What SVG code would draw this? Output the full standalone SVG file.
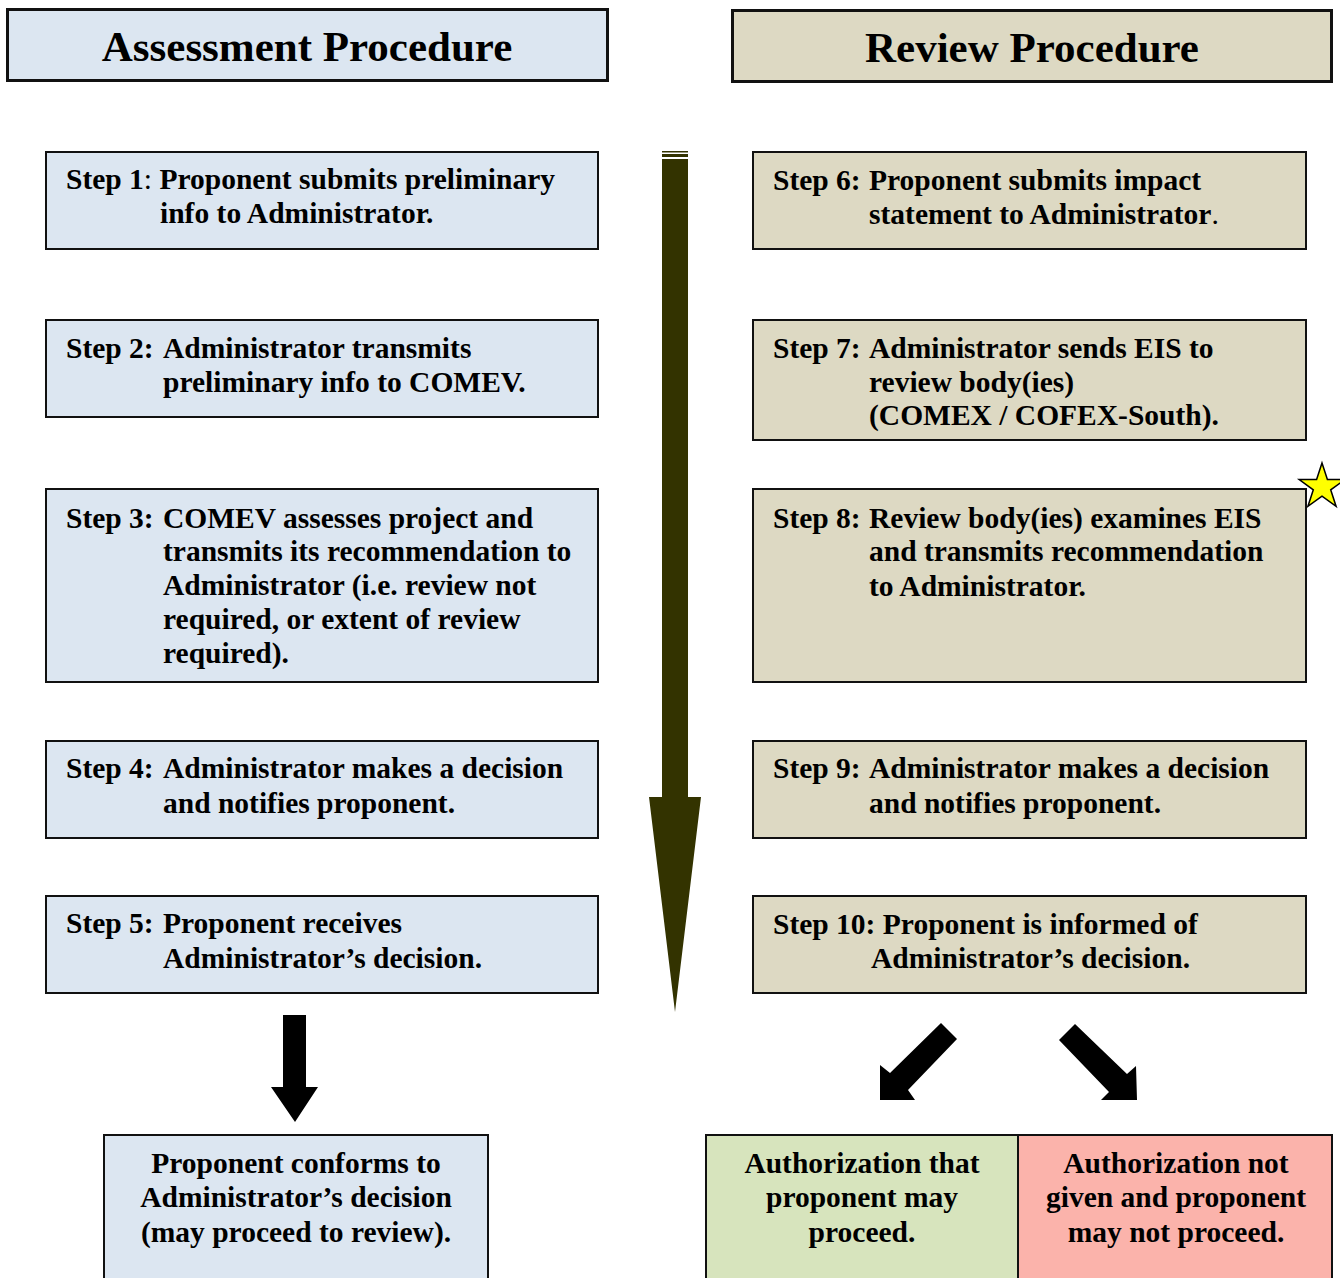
<svg xmlns="http://www.w3.org/2000/svg" width="1340" height="1278" viewBox="0 0 1340 1278">
<style>
text{font-family:"Liberation Serif","Times New Roman",serif;font-weight:bold;fill:#000}
.st{font-size:29.5px}
.ttl{font-size:43px;text-anchor:middle}
.ctr{font-size:29.5px;text-anchor:middle}
.blue{fill:#dce6f1;stroke:#111;stroke-width:2}
.tan{fill:#ddd9c3;stroke:#111;stroke-width:2}
.hdr{stroke-width:3}
.nrm{font-weight:normal}
.olive{fill:#333300}
.blk{fill:#000}
</style>
<rect width="1340" height="1278" fill="#fff"/>
<g id="hdr-assessment"><rect class="blue hdr" x="7.5" y="9.5" width="600" height="71"/><text class="ttl" x="307" y="61">Assessment Procedure</text></g>
<g id="hdr-review"><rect class="tan hdr" x="732.5" y="10.5" width="599" height="71"/><text class="ttl" x="1032" y="62">Review Procedure</text></g>

<g id="step1"><rect class="blue" x="46" y="152" width="552" height="97"/><text class="st" x="66" y="189">Step 1<tspan class="nrm">:</tspan> Proponent submits preliminary</text><text class="st" x="160" y="223">info to Administrator.</text></g>
<g id="step2"><rect class="blue" x="46" y="320" width="552" height="97"/><text class="st" x="66" y="358">Step 2:</text><text class="st" x="163" y="358">Administrator transmits</text><text class="st" x="163" y="392">preliminary info to COMEV.</text></g>
<g id="step3"><rect class="blue" x="46" y="489" width="552" height="193"/><text class="st" x="66" y="528">Step 3:</text><text class="st" x="163" y="528">COMEV assesses project and</text><text class="st" x="163" y="561">transmits its recommendation to</text><text class="st" x="163" y="595">Administrator (i.e. review not</text><text class="st" x="163" y="629">required, or extent of review</text><text class="st" x="163" y="663">required).</text></g>
<g id="step4"><rect class="blue" x="46" y="741" width="552" height="97"/><text class="st" x="66" y="778">Step 4:</text><text class="st" x="163" y="778">Administrator makes a decision</text><text class="st" x="163" y="813">and notifies proponent.</text></g>
<g id="step5"><rect class="blue" x="46" y="896" width="552" height="97"/><text class="st" x="66" y="933">Step 5:</text><text class="st" x="163" y="933">Proponent receives</text><text class="st" x="163" y="968">Administrator’s decision.</text></g>

<g id="step6"><rect class="tan" x="753" y="152" width="553" height="97"/><text class="st" x="773" y="190">Step 6:</text><text class="st" x="869" y="190">Proponent submits impact</text><text class="st" x="869" y="224">statement to Administrator<tspan class="nrm">.</tspan></text></g>
<g id="step7"><rect class="tan" x="753" y="320" width="553" height="120"/><text class="st" x="773" y="358">Step 7:</text><text class="st" x="869" y="358">Administrator sends EIS to</text><text class="st" x="869" y="392">review body(ies)</text><text class="st" x="869" y="425">(COMEX / COFEX-South).</text></g>
<g id="step8"><rect class="tan" x="753" y="489" width="553" height="193"/><text class="st" x="773" y="528">Step 8:</text><text class="st" x="869" y="528">Review body(ies) examines EIS</text><text class="st" x="869" y="561">and transmits recommendation</text><text class="st" x="869" y="596">to Administrator.</text></g>
<g id="step9"><rect class="tan" x="753" y="741" width="553" height="97"/><text class="st" x="773" y="778">Step 9:</text><text class="st" x="869" y="778">Administrator makes a decision</text><text class="st" x="869" y="813">and notifies proponent.</text></g>
<g id="step10"><rect class="tan" x="753" y="896" width="553" height="97"/><text class="st" x="773" y="934">Step 10: Proponent is informed of</text><text class="st" x="871" y="968">Administrator’s decision.</text></g>

<g id="outcome-conform"><rect class="blue" x="104" y="1135" width="384" height="150"/><text class="ctr" x="296" y="1173">Proponent conforms to</text><text class="ctr" x="296" y="1207">Administrator’s decision</text><text class="ctr" x="296" y="1242">(may proceed to review).</text></g>
<g id="outcome-proceed"><rect x="706" y="1135" width="312" height="150" fill="#d7e4bd" stroke="#111" stroke-width="2"/><text class="ctr" x="862" y="1173">Authorization that</text><text class="ctr" x="862" y="1207">proponent may</text><text class="ctr" x="862" y="1242">proceed.</text></g>
<g id="outcome-stop"><rect x="1018" y="1135" width="314" height="150" fill="#fbb3ab" stroke="#111" stroke-width="2"/><text class="ctr" x="1176" y="1173">Authorization not</text><text class="ctr" x="1176" y="1207">given and proponent</text><text class="ctr" x="1176" y="1242">may not proceed.</text></g>

<g id="star"><polygon points="1322,463 1327.4,479.6 1344.8,479.6 1330.7,489.8 1336.1,506.4 1322,496.2 1307.9,506.4 1313.3,489.8 1299.2,479.6 1316.6,479.6" fill="#ffff00" stroke="#000" stroke-width="1.5"/></g>

<g id="connectors">
<rect class="olive" x="662" y="151" width="26" height="1.5"/>
<rect class="olive" x="662" y="154" width="26" height="3"/>
<polygon class="olive" points="662,159 688,159 688,797 701,797 675,1012 649,797 662,797"/>
<polygon class="blk" points="283,1015 306,1015 306,1087 318,1087 295,1122 271,1087 283,1087"/>
<polygon class="blk" points="941,1023 957,1039 908,1090 915,1100 880,1100 880,1065 890,1073"/>
<polygon class="blk" points="1075,1024 1127,1074 1136,1066 1137,1100 1101,1100 1109,1092 1059,1040"/>
</g>
</svg>
